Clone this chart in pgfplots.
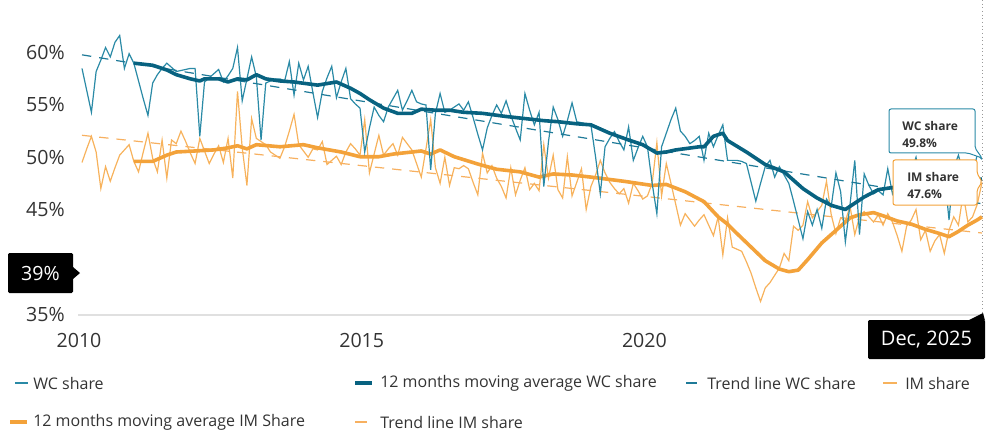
\documentclass[border=0pt]{standalone}
\usepackage{fontspec}
\setmainfont{Open Sans}
\usepackage{pgfplots}
\pgfplotsset{compat=1.18}
\definecolor{wcraw}{RGB}{42,138,166}
\definecolor{wcma}{RGB}{8,98,128}
\definecolor{wctr}{RGB}{30,122,152}
\definecolor{imraw}{RGB}{247,178,92}
\definecolor{imma}{RGB}{243,162,58}
\definecolor{imtr}{RGB}{247,176,96}
\definecolor{txt}{RGB}{51,51,51}
\definecolor{basegray}{RGB}{224,224,224}
\begin{document}
\begin{tikzpicture}
\useasboundingbox (0,0) rectangle (742.5pt,-326.25pt);
\begin{axis}[at={(61.5pt,-235.5pt)}, anchor=south west, scale only axis,
  width=675pt, height=215.55pt, xmin=0, xmax=191, ymin=35, ymax=62.5,
  axis line style={draw=none}, major tick length=0pt, clip=false,
  ytick={35,45,50,55,60}, yticklabels={35\%,45\%,50\%,55\%,60\%},
  xtick={0,60,120}, xticklabels={2010,2015,2020},
  /pgf/number format/assume math mode=true,
  ticklabel style={font=\fontsize{14.7}{16}\selectfont, text=txt},
  yticklabel style={inner sep=0pt, anchor=east, xshift=-12.75pt},
  xticklabel style={inner sep=0pt, anchor=north, yshift=-14.25pt, xshift=-2.25pt}]
% IM raw
\addplot[imraw, line width=0.9pt] coordinates {(0,49.5)(1,50.8)(2,52.0)(3,50.5)(4,47.0)(5,49.1)(6,47.7)(7,49.0)(8,50.2)(9,50.7)(10,51.2)(11,49.6)(12,48.6)(13,50.5)(14,52.3)(15,49.9)(16,48.6)(17,51.65)(18,48.0)(19,51.65)(20,51.3)(21,52.5)(22,51.5)(23,50.4)(24,49.4)(25,51.8)(26,50.6)(27,49.4)(28,50.3)(29,51.1)(30,49.5)(31,51.8)(32,48.0)(33,56.3)(34,50.9)(35,47.3)(36,53.7)(37,51.8)(38,51.5)(39,51.2)(40,50.5)(41,50.2)(42,49.9)(43,51.0)(44,52.5)(45,54.1)(46,51.2)(47,50.6)(48,50.0)(49,50.8)(50,50.7)(51,51.5)(52,49.3)(53,49.7)(54,50.1)(55,49.3)(56,50.5)(57,51.3)(58,50.8)(59,50.2)(60,53.6)(61,48.5)(62,50.3)(63,52.1)(64,50.2)(65,50.8)(66,51.3)(67,50.2)(68,51.9)(69,51.3)(70,50.7)(71,49.4)(72,48.1)(73,50.8)(74,53.6)(75,49.0)(76,47.5)(77,50.0)(78,47.3)(79,49.0)(80,48.9)(81,49.2)(82,48.9)(83,47.6)(84,46.4)(85,50.4)(86,48.5)(87,49.2)(88,48.0)(89,47.2)(90,46.1)(91,49.0)(92,46.4)(93,47.8)(94,49.0)(95,46.9)(96,47.5)(97,46.8)(98,51.2)(99,48.0)(100,50.2)(101,46.9)(102,46.1)(103,50.05)(104,46.3)(105,47.6)(106,48.9)(107,45.0)(108,47.2)(109,48.3)(110,49.7)(111,48.5)(112,47.6)(113,47.0)(114,46.5)(115,47.0)(116,45.6)(117,47.5)(118,46.8)(119,46.0)(120,46.3)(121,47.5)(122,51.4)(123,46.3)(124,49.4)(125,47.5)(126,45.5)(127,43.5)(128,44.6)(129,44.0)(130,43.4)(131,44.0)(132,44.5)(133,43.5)(134,42.5)(135,44.3)(136,40.65)(137,44.2)(138,41.4)(139,41.2)(140,41.0)(141,40.0)(142,38.9)(143,37.5)(144,36.2)(145,37.5)(146,38.0)(147,38.7)(148,39.4)(149,40.8)(150,40.1)(151,43.4)(152,43.0)(153,43.5)(154,45.75)(155,44.2)(156,44.8)(157,45.4)(158,47.7)(159,44.5)(160,42.7)(161,44.2)(162,43.9)(163,45.3)(164,42.6)(165,44.3)(166,44.8)(167,44.3)(168,43.8)(169,44.5)(170,43.5)(171,44.6)(172,43.8)(173,42.5)(174,41.0)(175,43.4)(176,44.0)(177,45.0)(178,42.1)(179,43.0)(180,41.0)(181,42.0)(182,42.6)(183,40.8)(184,43.0)(185,44.3)(186,43.5)(187,46.5)(188,43.8)(189,44.3)(190,45.5)(191,47.6)};
% IM trend
\addplot[imtr, line width=0.9pt, dash pattern=on 7pt off 6pt] coordinates {(0,52.1)(191,42.75)};
% IM MA
\addplot[imma, line width=2.7pt, line join=round] coordinates {(11,49.6)(15,49.6)(18,50.2)(20,50.5)(24,50.6)(28,50.7)(31,50.9)(33,51.1)(35,50.8)(37,51.2)(42,51.0)(47,51.2)(50,50.9)(55,50.5)(59,50.05)(63,50.05)(66,50.3)(68,50.4)(72,50.6)(74,50.3)(76,50.7)(79,50.05)(84,49.35)(88,48.85)(93,48.6)(97,48.1)(100,48.4)(104,48.3)(108,48.1)(115,47.7)(121,47.3)(124,47.4)(128,46.7)(132,45.75)(135,44.3)(137,43.6)(139,42.7)(142,41.4)(145,40.1)(148,39.3)(150,39.05)(152,39.2)(154,40.2)(157,41.8)(160,43.0)(163,44.2)(165,44.5)(168,44.7)(170,44.4)(173,43.9)(176,43.6)(179,43.1)(182,42.7)(184,42.4)(186,42.9)(188,43.5)(190,44.0)(191,44.3)};
% WC raw
\addplot[wcraw, line width=0.9pt] coordinates {(0,58.5)(1,56.4)(2,54.3)(3,58.2)(4,59.3)(5,60.5)(6,59.6)(7,61.0)(8,61.65)(9,58.5)(10,59.9)(11,59.0)(12,57.3)(13,55.6)(14,54.0)(15,57.1)(16,57.9)(17,58.5)(18,59.0)(19,58.6)(20,58.2)(21,58.3)(22,58.4)(23,58.5)(24,58.5)(25,52.0)(26,57.2)(27,57.6)(28,58.0)(29,58.4)(30,57.2)(31,57.8)(32,58.5)(33,60.5)(34,55.4)(35,57.5)(36,59.6)(37,57.7)(38,51.65)(39,57.1)(40,57.3)(41,57.5)(42,57.5)(43,57.3)(44,59.15)(45,55.95)(46,59.0)(47,57.4)(48,58.7)(49,56.2)(50,53.8)(51,56.3)(52,57.6)(53,58.7)(54,55.7)(55,57.2)(56,58.5)(57,55.6)(58,55.1)(59,54.7)(60,50.5)(61,52.8)(62,54.8)(63,54.0)(64,53.4)(65,54.8)(66,55.6)(67,56.4)(68,54.5)(69,55.4)(70,56.4)(71,55.3)(72,55.1)(73,55.0)(74,48.8)(75,54.2)(76,56.1)(77,54.3)(78,54.5)(79,54.8)(80,55.1)(81,54.5)(82,55.3)(83,53.8)(84,52.2)(85,50.7)(86,52.8)(87,54.0)(88,55.0)(89,54.2)(90,55.4)(91,54.0)(92,52.8)(93,51.65)(94,56.1)(95,54.5)(96,53.1)(97,54.3)(98,47.2)(99,51.5)(100,54.8)(101,53.6)(102,52.0)(103,53.5)(104,55.2)(105,53.4)(106,53.3)(107,53.2)(108,53.1)(109,50.0)(110,46.5)(111,51.0)(112,51.8)(113,52.45)(114,51.5)(115,50.7)(116,52.9)(117,49.7)(118,50.9)(119,52.0)(120,51.0)(121,47.5)(122,44.6)(123,51.0)(124,52.3)(125,53.6)(126,54.7)(127,52.5)(128,52.0)(129,51.3)(130,51.6)(131,52.0)(132,49.7)(133,52.3)(134,51.0)(135,52.1)(136,53.1)(137,49.7)(138,49.7)(139,49.7)(140,49.6)(141,49.4)(142,47.6)(143,45.8)(144,47.5)(145,49.1)(146,49.7)(147,48.1)(148,49.1)(149,48.3)(150,47.5)(151,45.8)(152,44.0)(153,42.2)(154,44.8)(155,43.5)(156,45.0)(157,43.2)(158,46.0)(159,45.3)(160,48.5)(161,46.7)(162,41.9)(163,45.5)(164,49.7)(165,42.6)(166,48.4)(167,47.3)(168,46.5)(169,46.8)(170,46.4)(171,48.9)(172,46.5)(173,47.5)(174,49.5)(175,47.0)(176,48.6)(177,50.0)(178,47.5)(179,49.2)(180,48.0)(181,49.5)(182,47.8)(183,48.6)(184,44.0)(185,49.0)(186,50.2)(187,48.5)(188,49.6)(189,48.2)(190,50.3)(191,49.8)};
% WC trend
\addplot[wctr, line width=0.9pt, dash pattern=on 7pt off 6pt] coordinates {(0,59.8)(191,45.55)};
% WC MA
\addplot[wcma, line width=2.7pt, line join=round] coordinates {(11,59.0)(13,58.9)(15,58.8)(18,58.35)(20,57.9)(23,57.5)(25,57.3)(26,57.5)(29,57.5)(31,57.2)(33,57.5)(35,57.4)(37,57.9)(39,57.5)(42,57.3)(45,57.2)(50,56.9)(54,57.2)(57,56.6)(59,56.1)(61,55.5)(64,54.7)(67,54.2)(70,54.2)(72,54.6)(75,54.5)(78,54.5)(81,54.3)(85,54.2)(90,53.9)(94,53.7)(98,53.5)(101,53.4)(105,53.2)(108,53.1)(112,52.3)(116,51.65)(119,51.2)(122,50.4)(124,50.5)(126,50.7)(131,51.0)(132,51.0)(134,52.0)(136,52.3)(137,51.6)(141,50.5)(145,49.3)(149,48.6)(153,47.0)(156,46.1)(159,45.4)(162,45.0)(163,45.3)(166,46.2)(169,46.9)(172,47.1)(176,47.3)(180,47.4)(184,47.6)(188,47.8)(191,47.9)};
\end{axis}
\begin{scope}[x=0.75pt,y=-0.75pt]
\draw[basegray, line width=1.5pt] (78,314.5) -- (984,314.5);
\draw[gray!80, dotted, line width=0.75pt] (982.5,0) -- (982.5,314);
% tooltips
\draw[wcraw, fill=white, line width=0.75pt, rounded corners=1.5pt] (889,109) -- (975,109) -- (975,148) -- (982,158) -- (968,153) -- (889,153) -- cycle;
\node[anchor=west, inner sep=0pt, text=txt, font=\bfseries\fontsize{9}{10}\selectfont] at (902,126) {WC share};
\node[anchor=west, inner sep=0pt, text=txt, font=\bfseries\fontsize{9}{10}\selectfont] at (902,143) {49.8\%};
\draw[imma, fill=white, line width=0.75pt, rounded corners=1.5pt] (893,160) -- (977,160) -- (977,173) -- (982,182) -- (977,190) -- (977,205) -- (893,205) -- cycle;
\node[anchor=west, inner sep=0pt, text=txt, font=\bfseries\fontsize{9}{10}\selectfont] at (907,177) {IM share};
\node[anchor=west, inner sep=0pt, text=txt, font=\bfseries\fontsize{9}{10}\selectfont] at (907,194) {47.6\%};
% 39% marker
\fill[black, rounded corners=1pt] (8,253) rectangle (73,293);
\fill[black] (73,267) -- (80,273) -- (73,279) -- cycle;
\node[text=white, inner sep=0pt, font=\fontsize{14.7}{16}\selectfont] at (40.5,273) {39\%};
% Dec 2025 marker
\fill[black, rounded corners=1pt] (868,320) rectangle (985,359);
\fill[black] (968,320.5) -- (983,313) -- (985,320.5) -- cycle;
\node[text=white, inner sep=0pt, font=\fontsize{15}{17}\selectfont] at (926.5,339.5) {Dec, 2025};
% legend
\begin{scope}[every node/.style={anchor=west, inner sep=0pt, text=txt, font=\fontsize{12}{14}\selectfont}]
\draw[wcraw, line width=0.9pt] (15,383) -- (28,383); \node at (33,383) {WC share};
\draw[wcma, line width=2.7pt] (355,383) -- (372,383); \node at (380,383) {12 months moving average WC share};
\draw[wctr, line width=0.9pt] (686,383) -- (697,383); \node at (707,383) {Trend line WC share};
\draw[imraw, line width=0.9pt] (883,383) -- (897,383); \node at (905,383) {IM share};
\draw[imma, line width=2.7pt] (10,422) -- (27,422); \node at (33,422) {12 months moving average IM Share};
\draw[imtr, line width=0.9pt] (355,422) -- (367,422); \node at (380,422) {Trend line IM share};
\end{scope}
\end{scope}
\end{tikzpicture}
\end{document}
